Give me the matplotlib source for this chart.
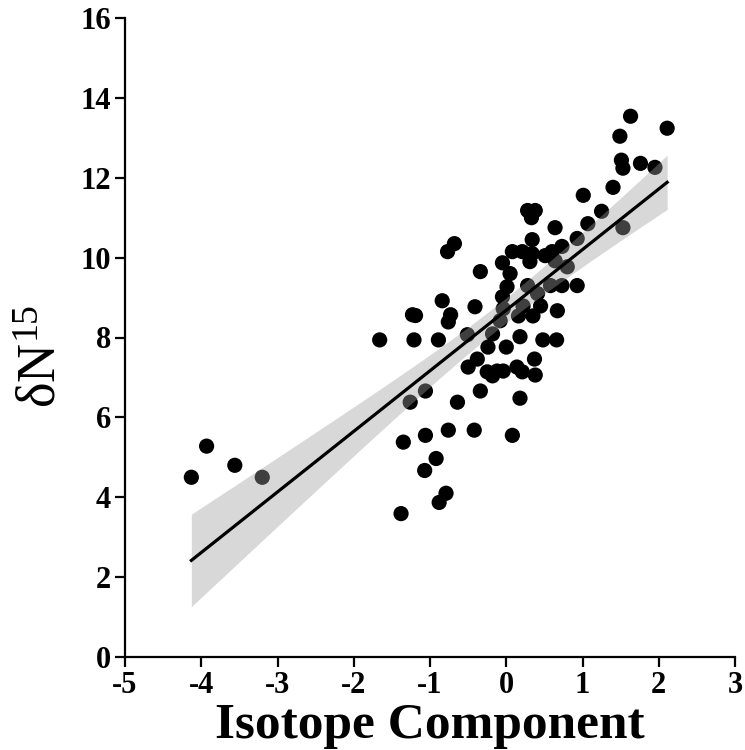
import numpy as np
import matplotlib
matplotlib.use("Agg")
import matplotlib.pyplot as plt

# Isotope component score vs. nitrogen isotope ratio
iso_component = [
    -4.13, -3.93, -3.56, -3.20,
    -1.66, -1.23, -1.19, -1.21, -0.89, -0.84, -0.77, -0.68, -0.73, -0.76,
    -0.41, -0.34, -0.51, -1.06, -1.26, -0.64, -0.34, -1.35, -1.06, -0.76,
    -0.42, 0.08, -0.92, -1.07, -0.79, -0.88, -1.38, -0.38, -0.50, -0.25,
    -0.12, -0.04, -0.18, 0.14, 0.21, 0.38, 0.37, 0.18, 0.18, 0.48, 0.66,
    0.00, -0.18, -0.24,
    1.40, 1.01, 0.28, 0.38, 0.33, 1.25, 1.07, 0.64, 1.53, 0.34, 0.93, 0.73,
    0.08, 0.21, 0.34, 0.51, 0.60, -0.05, 0.31, 0.64, 0.80, 0.05, 0.01, 0.93,
    0.73, 0.58, 0.28, -0.05, 0.41, 0.22, 0.45, 0.67, -0.04, 0.16, 0.35,
    -0.08,
    1.63, 2.11, 1.49, 1.51, 1.53, 1.76, 1.95,
]
delta_n15 = [
    4.50, 5.28, 4.80, 4.50,
    7.94, 8.57, 8.55, 7.94, 7.94, 8.92, 10.15, 10.35, 8.57, 8.39,
    8.77, 9.65, 8.07, 6.66, 6.38, 6.38, 6.66, 5.38, 5.55, 5.68,
    5.68, 5.55, 4.97, 4.67, 4.10, 3.87, 3.59, 7.46, 7.26, 7.14,
    7.16, 7.16, 7.04, 7.26, 7.14, 7.06, 7.46, 6.48, 8.02, 7.94, 7.94,
    7.76, 8.09, 7.76,
    11.76, 11.56, 11.18, 11.18, 11.00, 11.16, 10.85, 10.75, 10.75, 10.45,
    10.48, 10.28,
    10.15, 10.15, 10.10, 10.05, 10.15, 9.87, 9.90, 9.92, 9.77, 9.60, 9.27,
    9.30, 9.30, 9.30, 9.30, 9.02, 9.10, 8.79, 8.79, 8.67, 8.72, 8.54, 8.54,
    8.42,
    13.54, 13.24, 13.04, 12.44, 12.24, 12.36, 12.26,
]
x_ticks = [-5, -4, -3, -2, -1, 0, 1, 2, 3]
y_ticks = [0, 2, 4, 6, 8, 10, 12, 14, 16]
x_label = "Isotope Component"
y_label = r"$\mathregular{\delta N^{15}}$"

T_CRIT = 1.987  # two-sided 95% t quantile, ~90 d.f.

plt.rcParams["font.family"] = ["Liberation Serif", "DejaVu Serif"]
plt.rcParams["mathtext.fontset"] = "custom"
plt.rcParams["mathtext.rm"] = "Liberation Serif"
plt.rcParams["mathtext.it"] = "Liberation Serif:italic"

x = np.asarray(iso_component)
y = np.asarray(delta_n15)

# Ordinary least squares fit with a 95% confidence band for the mean
slope, intercept = np.polyfit(x, y, 1)
n = len(x)
resid = y - (slope * x + intercept)
s = np.sqrt(np.sum(resid ** 2) / (n - 2))
sxx = np.sum((x - x.mean()) ** 2)
xf = np.linspace(x.min(), x.max(), 200)
yf = slope * xf + intercept
half = T_CRIT * s * np.sqrt(1.0 / n + (xf - x.mean()) ** 2 / sxx)

fig = plt.figure(figsize=(7.45, 7.5), dpi=100)
ax = fig.add_axes([0.1678, 0.124, 0.8188, 0.852])

ax.scatter(x, y, s=120, color="black", edgecolors="none", zorder=2)
ax.fill_between(xf, yf - half, yf + half, color="#9e9e9e", alpha=0.4,
                linewidth=0, zorder=3)
ax.plot(xf, yf, color="black", linewidth=2.3, zorder=4)

ax.set_xlim(-5, 3)
ax.set_ylim(0, 16)
ax.set_xticks(x_ticks)
ax.set_yticks(y_ticks)
ax.set_xticklabels([str(v) for v in x_ticks], fontweight="bold", fontsize=22)
ax.set_yticklabels([str(v) for v in y_ticks], fontweight="bold", fontsize=22)

for side in ("top", "right"):
    ax.spines[side].set_visible(False)
for side in ("left", "bottom"):
    ax.spines[side].set_linewidth(1.6)
ax.tick_params(direction="out", length=7, width=1.6, pad=3)

ax.set_xlabel(x_label, fontsize=37, fontweight="bold", labelpad=2)
ax.set_ylabel(y_label, fontsize=39)
ax.yaxis.set_label_coords(-0.094, 0.47)

fig.savefig("out.png", dpi=100)
